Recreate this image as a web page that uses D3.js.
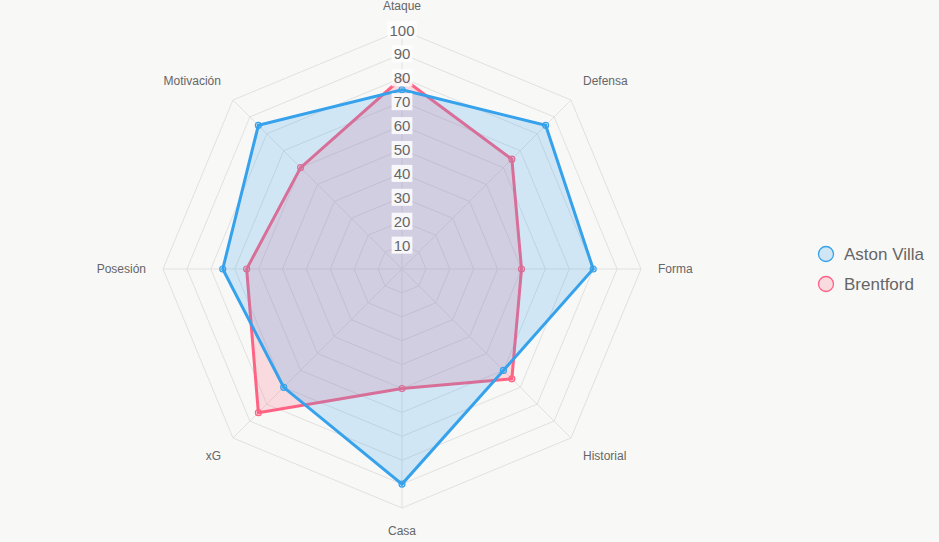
<!DOCTYPE html>
<html>
<head>
<meta charset="utf-8">
<script src="https://cdn.jsdelivr.net/npm/d3@7"></script>
<style>
  html, body { margin: 0; padding: 0; background: #f8f8f7; }
  svg { display: block; font-family: "Liberation Sans", Arial, sans-serif; }
</style>
</head>
<body>
<svg id="chart" width="939" height="542"></svg>
<script>
const categories = ["Ataque", "Defensa", "Forma", "Historial", "Casa", "xG", "Posesión", "Motivación"];
const seriesNames = ["Aston Villa", "Brentford"];
const astonVilla = [75, 85, 80, 60, 90, 70, 75, 85];
const brentford = [80, 65, 50, 65, 50, 85, 65, 60];
const tickValues = [10, 20, 30, 40, 50, 60, 70, 80, 90, 100];
const lineColors = ["#36a2eb", "#ff6384"];
const fillColors = ["rgba(54,162,235,0.2)", "rgba(255,99,132,0.2)"];

const svg = d3.select("#chart");
const cx = 402, cy = 269, R = 239;
const r = d3.scaleLinear().domain([0, 100]).range([0, R]);
const n = categories.length;
const ang = d3.scaleLinear().domain([0, n]).range([0, 2 * Math.PI]);
const pt = (i, v) => {
  const a = ang(i) - Math.PI / 2;
  return [cx + r(v) * Math.cos(a), cy + r(v) * Math.sin(a)];
};

const grid = svg.append("g");
// rings
tickValues.forEach(t => {
  const pts = categories.map((c, i) => pt(i, t));
  grid.append("polygon")
    .attr("points", pts.map(p => p.join(",")).join(" "))
    .attr("fill", "none")
    .attr("stroke", "#e1e1e1")
    .attr("stroke-width", 1);
});
// angle lines
categories.forEach((c, i) => {
  const p = pt(i, 100);
  grid.append("line")
    .attr("x1", cx).attr("y1", cy).attr("x2", p[0]).attr("y2", p[1])
    .attr("stroke", "#e1e1e1").attr("stroke-width", 1);
});

// datasets: draw Brentford first, Aston Villa on top
const datasets = [
  { name: seriesNames[0], values: astonVilla, line: lineColors[0], fill: fillColors[0] },
  { name: seriesNames[1], values: brentford, line: lineColors[1], fill: fillColors[1] }
];
const line = d3.lineRadial()
  .angle((d, i) => ang(i))
  .radius(d => r(d))
  .curve(d3.curveLinearClosed);

datasets.slice().reverse().forEach(ds => {
  const g = svg.append("g").attr("transform", `translate(${cx},${cy})`);
  g.append("path")
    .attr("d", line(ds.values))
    .attr("fill", ds.fill)
    .attr("stroke", ds.line)
    .attr("stroke-width", 3)
    .attr("stroke-linejoin", "miter");
  ds.values.forEach((v, i) => {
    const p = pt(i, v);
    svg.append("circle")
      .attr("cx", p[0]).attr("cy", p[1]).attr("r", 3)
      .attr("fill", ds.fill)
      .attr("stroke", ds.line)
      .attr("stroke-width", 1.2);
  });
});

// tick labels with backdrop
const tickG = svg.append("g");
tickValues.forEach(t => {
  const y = cy - r(t);
  const txt = String(t);
  const w = txt.length * 8.4 + 4;
  tickG.append("rect")
    .attr("x", cx - w / 2).attr("y", y - 8.5)
    .attr("width", w).attr("height", 17)
    .attr("fill", "rgba(255,255,255,0.85)");
  tickG.append("text")
    .attr("x", cx).attr("y", y)
    .attr("text-anchor", "middle")
    .attr("dominant-baseline", "central")
    .attr("font-size", 15)
    .attr("fill", "#666")
    .text(txt);
});

// point labels
const labelR = 256;
categories.forEach((c, i) => {
  const a = ang(i) - Math.PI / 2;
  const x = cx + labelR * Math.cos(a);
  const y = cy + labelR * Math.sin(a);
  const cs = Math.cos(a), sn = Math.sin(a);
  let anchor = "middle";
  if (cs > 0.01) anchor = "start"; else if (cs < -0.01) anchor = "end";
  let dy;
  if (sn < -0.01) dy = -3;       // upper half: bottom aligned
  else if (sn > 0.01) dy = 10;   // lower half: top aligned
  else dy = 4;
  svg.append("text")
    .attr("x", x).attr("y", y + dy)
    .attr("text-anchor", anchor)
    .attr("font-size", 12)
    .attr("fill", "#666")
    .text(c);
});

// legend
const legend = svg.append("g");
datasets.forEach((ds, k) => {
  const y = 254 + k * 30;
  legend.append("circle")
    .attr("cx", 826).attr("cy", y).attr("r", 7.5)
    .attr("fill", ds.fill).attr("stroke", ds.line).attr("stroke-width", 1.3);
  legend.append("text")
    .attr("x", 844).attr("y", y)
    .attr("dominant-baseline", "central")
    .attr("font-size", 17)
    .attr("fill", "#666")
    .text(ds.name);
});
</script>
</body>
</html>
